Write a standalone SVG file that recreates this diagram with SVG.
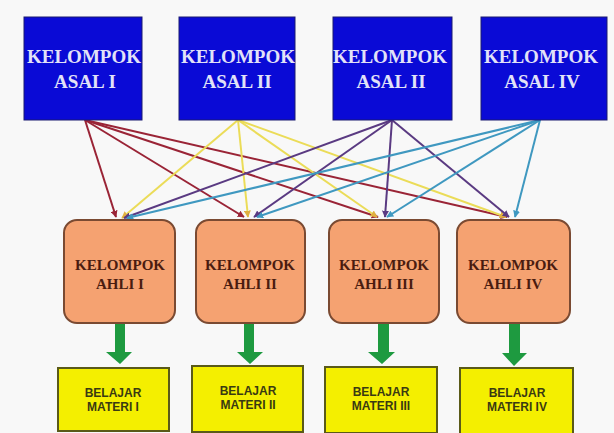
<svg xmlns="http://www.w3.org/2000/svg" width="614" height="433" viewBox="0 0 614 433">
<defs>
<style>
.asal{fill:#0a0ad6;stroke:#1a1a70;stroke-width:1}
.asalt{font-family:"Liberation Serif","Times New Roman",serif;font-weight:bold;font-size:19px;fill:#e2e2f8;text-anchor:middle}
.ahli{fill:#f5a271;stroke:#7a4a32;stroke-width:2}
.ahlit{font-family:"Liberation Serif","Times New Roman",serif;font-weight:bold;font-size:15px;fill:#4a1c10;text-anchor:middle}
.mat{fill:#f4ef00;stroke:#5a5a18;stroke-width:2}
.matt{font-family:"Liberation Sans",Arial,sans-serif;font-weight:bold;font-size:12px;fill:#3a3a12;text-anchor:middle}
.c1{stroke:#9a2436}
.c2{stroke:#ebdc58}
.c3{stroke:#5a3a82}
.c4{stroke:#3f98c0}
#connectors line{stroke-width:2;fill:none}
.g{fill:#1e9a40}
</style>
<marker id="m1" viewBox="0 0 10 10" refX="9" refY="5" markerWidth="7" markerHeight="7" markerUnits="userSpaceOnUse" orient="auto"><path d="M0,0L10,5L0,10z" fill="#9a2436"/></marker>
<marker id="m2" viewBox="0 0 10 10" refX="9" refY="5" markerWidth="7" markerHeight="7" markerUnits="userSpaceOnUse" orient="auto"><path d="M0,0L10,5L0,10z" fill="#e0b040"/></marker>
<marker id="m3" viewBox="0 0 10 10" refX="9" refY="5" markerWidth="7" markerHeight="7" markerUnits="userSpaceOnUse" orient="auto"><path d="M0,0L10,5L0,10z" fill="#5a3a82"/></marker>
<marker id="m4" viewBox="0 0 10 10" refX="9" refY="5" markerWidth="7" markerHeight="7" markerUnits="userSpaceOnUse" orient="auto"><path d="M0,0L10,5L0,10z" fill="#3f98c0"/></marker>
</defs>
<rect width="614" height="433" fill="#f8f8f8"/>

<g id="connectors">
<g class="c1" marker-end="url(#m1)">
<line x1="85" y1="120" x2="116" y2="217"/>
<line x1="85" y1="120" x2="244" y2="217"/>
<line x1="85" y1="120" x2="378" y2="217"/>
<line x1="85" y1="120" x2="507" y2="217"/>
</g>
<g class="c2" marker-end="url(#m2)">
<line x1="238" y1="120" x2="122" y2="218"/>
<line x1="238" y1="120" x2="248" y2="217"/>
<line x1="238" y1="120" x2="377" y2="217"/>
<line x1="238" y1="120" x2="506" y2="217"/>
</g>
<g class="c3" marker-end="url(#m3)">
<line x1="392" y1="120" x2="124" y2="218"/>
<line x1="392" y1="120" x2="254" y2="217"/>
<line x1="392" y1="120" x2="385" y2="217"/>
<line x1="392" y1="120" x2="509" y2="217"/>
</g>
<g class="c4" marker-end="url(#m4)">
<line x1="540" y1="120" x2="127" y2="218"/>
<line x1="540" y1="120" x2="257" y2="217"/>
<line x1="540" y1="120" x2="387" y2="217"/>
<line x1="540" y1="120" x2="515" y2="217"/>
</g>
<path class="g" d="M115,323H125V352H132L120,364L106,352H115Z"/>
<path class="g" d="M244,323H254V352H263L250,364L237,352H244Z"/>
<path class="g" d="M378,323H389V352H395L382,364L368,352H378Z"/>
<path class="g" d="M509,323H520V353H527L514,366L502,353H509Z"/>
</g>

<g id="asal1"><rect class="asal" x="24" y="17" width="118" height="103"/><text class="asalt" x="84" y="63">KELOMPOK</text><text class="asalt" x="85" y="88">ASAL I</text></g>
<g id="asal2"><rect class="asal" x="179" y="17" width="116" height="103"/><text class="asalt" x="238" y="63">KELOMPOK</text><text class="asalt" x="237" y="88">ASAL II</text></g>
<g id="asal3"><rect class="asal" x="333" y="17" width="119" height="103"/><text class="asalt" x="390" y="63">KELOMPOK</text><text class="asalt" x="391" y="88">ASAL II</text></g>
<g id="asal4"><rect class="asal" x="481" y="17" width="126" height="103"/><text class="asalt" x="541" y="63">KELOMPOK</text><text class="asalt" x="542" y="88">ASAL IV</text></g>

<g id="ahli1"><rect class="ahli" x="64" y="220" width="111" height="103" rx="13"/><text class="ahlit" x="120" y="270">KELOMPOK</text><text class="ahlit" x="120" y="289">AHLI I</text></g>
<g id="ahli2"><rect class="ahli" x="196" y="220" width="109" height="103" rx="13"/><text class="ahlit" x="250" y="270">KELOMPOK</text><text class="ahlit" x="250" y="289">AHLI II</text></g>
<g id="ahli3"><rect class="ahli" x="329" y="220" width="110" height="103" rx="13"/><text class="ahlit" x="384" y="270">KELOMPOK</text><text class="ahlit" x="384" y="289">AHLI III</text></g>
<g id="ahli4"><rect class="ahli" x="457" y="220" width="113" height="103" rx="13"/><text class="ahlit" x="513" y="270">KELOMPOK</text><text class="ahlit" x="513" y="289">AHLI IV</text></g>

<g id="materi1"><rect class="mat" x="58" y="368" width="111" height="63"/><text class="matt" x="113" y="397">BELAJAR</text><text class="matt" x="113" y="411">MATERI I</text></g>
<g id="materi2"><rect class="mat" x="192" y="366" width="111" height="66"/><text class="matt" x="248" y="395">BELAJAR</text><text class="matt" x="248" y="409">MATERI II</text></g>
<g id="materi3"><rect class="mat" x="325" y="367" width="112" height="66"/><text class="matt" x="381" y="396">BELAJAR</text><text class="matt" x="381" y="410">MATERI III</text></g>
<g id="materi4"><rect class="mat" x="460" y="368" width="113" height="66"/><text class="matt" x="517" y="397">BELAJAR</text><text class="matt" x="517" y="411">MATERI IV</text></g>
</svg>
